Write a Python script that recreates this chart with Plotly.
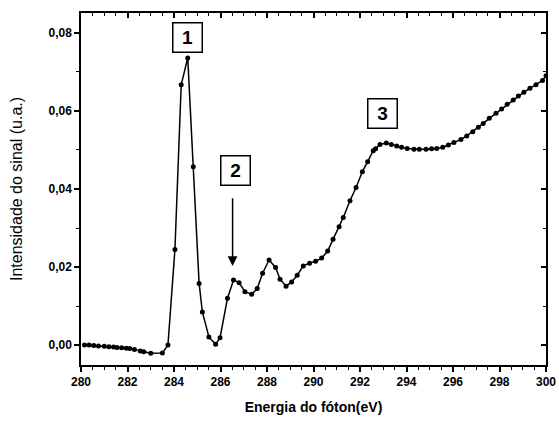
import plotly.graph_objects as go

energia = [280.15, 280.35, 280.55, 280.75, 281.0, 281.2, 281.4, 281.55, 281.75, 281.95,
           282.1, 282.3, 282.55, 282.7, 283.0, 283.5, 283.74, 284.04, 284.31, 284.59,
           284.83, 285.08, 285.22, 285.5, 285.79, 285.98, 286.3, 286.56, 286.8, 287.05,
           287.34, 287.58, 287.81, 288.09, 288.37, 288.56, 288.82, 289.06, 289.3, 289.56,
           289.83, 290.09, 290.35, 290.61, 290.84, 291.1, 291.28, 291.57, 291.83, 292.1,
           292.33, 292.57, 292.67, 292.86, 293.13, 293.35, 293.58, 293.79, 294.03, 294.32,
           294.55, 294.84, 295.08, 295.3, 295.56, 295.8, 296.04, 296.34, 296.59, 296.85,
           297.09, 297.3, 297.56, 297.85, 298.09, 298.33, 298.59, 298.81, 299.05, 299.31,
           299.57, 299.85, 300.0]
intensidade = [0.0000, 0.0000, -0.0001, -0.0002, -0.0003, -0.0004, -0.0005, -0.0006, -0.0007, -0.0008,
               -0.0009, -0.0011, -0.0015, -0.0017, -0.0021, -0.0020, 0.0000, 0.0245, 0.0667, 0.0736,
               0.0457, 0.0158, 0.0085, 0.0021, 0.0002, 0.0019, 0.0120, 0.0167, 0.0160, 0.0137,
               0.0130, 0.0145, 0.0184, 0.0218, 0.0199, 0.0169, 0.0151, 0.0162, 0.0179, 0.0203,
               0.0210, 0.0215, 0.0223, 0.0241, 0.0271, 0.0303, 0.0327, 0.0370, 0.0404, 0.0444,
               0.0470, 0.0498, 0.0503, 0.0514, 0.0518, 0.0514, 0.0510, 0.0507, 0.0504, 0.0502,
               0.0502, 0.0502, 0.0503, 0.0504, 0.0507, 0.0513, 0.0519, 0.0527, 0.0536, 0.0547,
               0.0558, 0.0568, 0.0581, 0.0594, 0.0605, 0.0617, 0.0628, 0.0638, 0.0648, 0.0658,
               0.0667, 0.0678, 0.0690]

rotulos = ["1", "2", "3"]
rotulo_x = [284.57, 286.66, 292.95]
rotulo_y = [0.0789, 0.0448, 0.0593]
seta_x = 286.52
seta_topo = 0.038
seta_ponta = 0.0203

FONT = "Liberation Sans, Arial, sans-serif"
XR = [280, 300]
YR = [-0.0051, 0.0851]

fig = go.Figure()
fig.add_trace(go.Scatter(
    x=energia, y=intensidade, mode="lines+markers",
    line=dict(color="black", width=1.5),
    marker=dict(color="black", size=5),
    showlegend=False, hoverinfo="skip"))
# dummy trace for mirrored axes
fig.add_trace(go.Scatter(x=[None], y=[None], xaxis="x2", yaxis="y2", showlegend=False))

common = dict(showline=True, linecolor="black", linewidth=1.5, showgrid=False, zeroline=False,
              tickcolor="black", tickwidth=1.5, automargin=False)

fig.update_layout(
    width=559, height=421,
    margin=dict(l=81, r=13, t=13, b=56, autoexpand=False),
    paper_bgcolor="white", plot_bgcolor="white",
    separators=",.",
    xaxis=dict(range=XR, dtick=2, tick0=280, ticks="outside", ticklen=5,
               minor=dict(dtick=0.5, ticks="outside", ticklen=3, tickcolor="black", tickwidth=1.2),
               tickfont=dict(family=FONT, size=12, color="black", weight="bold"),
               title=dict(text="Energia do fóton(eV)", standoff=14,
                          font=dict(family=FONT, size=14, color="black", weight="bold")),
               **common),
    yaxis=dict(range=YR, dtick=0.02, tick0=0, tickformat=".2f", ticks="outside", ticklen=5,
               minor=dict(dtick=0.01, ticks="outside", ticklen=3, tickcolor="black", tickwidth=1.2),
               tickfont=dict(family=FONT, size=12, color="black", weight="bold"),
               title=dict(text="Intensidade do sinal (u.a.)", standoff=22,
                          font=dict(family=FONT, size=16, color="black")),
               **common),
    xaxis2=dict(range=XR, overlaying="x", side="top", dtick=2, tick0=280, ticks="inside", ticklen=5,
                showticklabels=False,
                minor=dict(dtick=0.5, ticks="inside", ticklen=3, tickcolor="black", tickwidth=1.2),
                **common),
    yaxis2=dict(range=YR, overlaying="y", side="right", dtick=0.02, tick0=0, ticks="inside", ticklen=5,
                showticklabels=False,
                minor=dict(dtick=0.01, ticks="inside", ticklen=3, tickcolor="black", tickwidth=1.2),
                **common),
)

for t, xx, yy in zip(rotulos, rotulo_x, rotulo_y):
    fig.add_annotation(x=xx, y=yy, text=t, showarrow=False,
                       font=dict(family=FONT, size=19, color="black", weight="bold"),
                       bordercolor="black", borderwidth=1.5, borderpad=2,
                       width=24, height=24, bgcolor="white")

fig.add_annotation(x=seta_x, y=seta_ponta, ax=seta_x, ay=seta_topo, axref="x", ayref="y",
                   xref="x", yref="y", text="", showarrow=True,
                   arrowhead=2, arrowsize=1.3, arrowwidth=1.5, arrowcolor="black")

fig.write_html("out.html")
